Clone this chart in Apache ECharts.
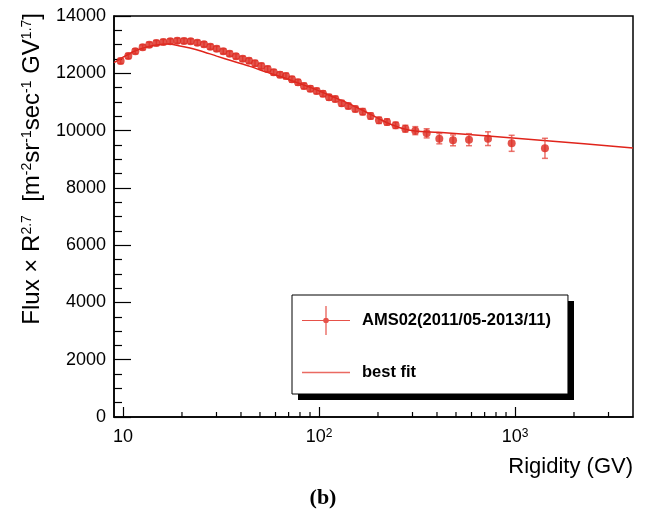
<!DOCTYPE html>
<html><head><meta charset="utf-8">
<script src="https://cdn.jsdelivr.net/npm/echarts@6/dist/echarts.min.js"></script>
<style>html,body{margin:0;padding:0;background:#fff}#c{width:646px;height:521px}</style>
</head><body><div id="c"></div>
<script>
// ---- data ----
const rigidity = [9.73,10.65,11.56,12.6,13.62,14.8,16.06,17.44,18.93,20.48,
  22.14,23.95,25.9,27.91,30.06,32.5,35.0,37.72,40.8,43.95,
  47.16,50.8,54.73,58.72,63.24,67.86,72.81,78.15,83.85,90.3,
  97.3,104.8,112.5,121.1,130.5,141.1,153.2,167.1,183.4,202.3,
  222.3,246.1,275.8,310.0,354.3,411.1,482.9,582.6,728.2,961.6,1422];
const flux = [12429,12604,12766,12906,12999,13057,13092,13116,13139,13127,
  13116,13069,13011,12929,12860,12766,12685,12592,12510,12441,
  12348,12254,12150,12033,11952,11905,11789,11684,11556,11463,
  11382,11288,11161,11102,10951,10858,10753,10660,10509,10358,
  10299,10183,10066,9997,9904,9717,9659,9682,9717,9555,9380];
const fluxErr = [90,90,90,90,90,90,90,90,90,90,
  90,90,90,90,90,90,90,90,90,90,
  100,100,100,100,100,100,100,100,100,100,
  100,100,100,100,100,100,100,110,110,110,
  110,110,120,140,160,180,190,210,240,280,350];
const fitRigidity = [9.0,10.24,11.51,12.95,14.91,17.11,19.24,21.97,24.71,30.06,36.53,44.46,54.1,65.76,79.07,96.5,117.9,141.1,167.7,203.8,225.7,264.2,308.8,406.2,703,1451,4000];
const fitFlux = [12370,12600,12780,12900,12990,13020,12965,12880,12790,12600,12420,12240,12040,11850,11650,11430,11180,10950,10700,10400,10254,10080,9985,9939,9821,9647,9392];
const xMinorTicks = [20,30,40,50,60,70,80,90,200,300,400,500,600,700,800,900,2000,3000];
const seriesNames = ['AMS02(2011/05-2013/11)', 'best fit'];
const xTitle = 'Rigidity (GV)';
const yTitle = 'Flux \u00d7 R{s|2.7}  [m{s|-2}sr{s|-1}sec{s|-1} GV{s|1.7}]';
const caption = '(b)';

const FONT = '"Liberation Sans", Arial, Helvetica, sans-serif';
const chart = echarts.init(document.getElementById('c'), null, {renderer: 'canvas'});

const crossIcon = 'path://M0,13.9H48V15.1H0Z M23.4,0H24.6V29H23.4Z M21.2,14.5A2.8,2.8 0 1 1 26.8,14.5A2.8,2.8 0 1 1 21.2,14.5Z';
const lineIcon = 'path://M0,14H48V15.4H0Z';

const option = {
  animation: false,
  backgroundColor: '#fff',
  title: {
    text: caption, left: 'center', top: 482,
    textStyle: {fontFamily: '"Liberation Serif", "Times New Roman", serif', fontWeight: 'bold', fontSize: 22, color: '#000'}
  },
  graphic: [{
    type: 'rect', left: 298, top: 301, z: 9, silent: true,
    shape: {width: 276, height: 99},
    style: {fill: '#000'}
  }],
  grid: {left: 114, right: 13, top: 16, bottom: 104, show: true, borderColor: '#000', borderWidth: 1.5, backgroundColor: 'transparent'},
  legend: {
    orient: 'vertical', left: 292, top: 295, z: 10,
    padding: [11, 17, 13, 10], itemGap: 29, itemWidth: 48, itemHeight: 29, itemTextGap: 5,
    backgroundColor: '#fff', borderColor: '#000', borderWidth: 1, borderRadius: 0,
    selectedMode: false,
    textStyle: {fontFamily: FONT, fontWeight: 'bold', fontSize: 16.5, color: '#000', padding: [0, 0, 0, 7]},
    data: [
      {name: seriesNames[0], icon: crossIcon, itemStyle: {color: '#e0261c'}},
      {name: seriesNames[1], icon: lineIcon, itemStyle: {color: '#ea6a62'}}
    ]
  },
  xAxis: {
    type: 'log', logBase: 10, min: 9, max: 4000,
    axisLine: {show: true, onZero: false, lineStyle: {color: '#000', width: 1.5}},
    axisTick: {show: true, inside: true, length: 10, lineStyle: {color: '#000', width: 1.2}},
    minorTick: {show: false},
    splitLine: {show: false},
    axisLabel: {
      showMinLabel: false, showMaxLabel: false, margin: 11,
      fontFamily: FONT, fontSize: 18, color: '#000',
      formatter: function (v) {
        const e = Math.round(Math.log10(v));
        if (Math.abs(v - Math.pow(10, e)) > 1e-6 * v) return '';
        return e === 1 ? '10' : '10{s|' + e + '}';
      },
      rich: {s: {fontFamily: FONT, fontSize: 12, color: '#000', verticalAlign: 'top'}}
    },
    name: xTitle, nameLocation: 'end', nameGap: 0, nameMoveOverlap: false,
    nameTextStyle: {fontFamily: FONT, fontSize: 22, color: '#000', align: 'right', verticalAlign: 'top', padding: [39, 0, 0, 0]}
  },
  yAxis: {
    type: 'value', min: 0, max: 14000, interval: 2000,
    axisLine: {show: true, onZero: false, lineStyle: {color: '#000', width: 1.5}},
    axisTick: {show: true, inside: true, length: 17, lineStyle: {color: '#000', width: 1.2}},
    minorTick: {show: true, splitNumber: 4, length: 8, lineStyle: {color: '#000', width: 1.2}},
    splitLine: {show: false},
    axisLabel: {margin: 8, fontFamily: FONT, fontSize: 18, color: '#000', formatter: function (v) { return String(v); }},
    name: yTitle, nameLocation: 'end', nameRotate: 90, nameGap: 3, nameMoveOverlap: false,
    nameTextStyle: {
      fontFamily: FONT, fontSize: 24, color: '#000', align: 'right', verticalAlign: 'bottom', padding: [0, 0, 70, 0],
      rich: {s: {fontFamily: FONT, fontSize: 14, color: '#000', verticalAlign: 'top'}}
    }
  },
  series: [
    {
      name: seriesNames[1], type: 'line', smooth: 0.3, showSymbol: false, symbol: 'none', silent: true,
      data: fitRigidity.map((r, i) => [r, fitFlux[i]]),
      lineStyle: {color: '#e0241b', width: 1.5},
      itemStyle: {color: '#e0241b'}, z: 2
    },
    {
      name: 'errbars', type: 'custom', silent: true, z: 3,
      data: rigidity.map((r, i) => [r, flux[i], fluxErr[i]]),
      encode: {x: 0, y: 1},
      renderItem: function (params, api) {
        const x = api.value(0), y = api.value(1), e = api.value(2);
        const t = api.coord([x, y + e]);
        const b = api.coord([x, y - e]);
        const st = {stroke: 'rgba(228,70,60,0.75)', lineWidth: 1.5};
        return {type: 'group', children: [
          {type: 'line', shape: {x1: t[0], y1: t[1], x2: b[0], y2: b[1]}, style: st},
          {type: 'line', shape: {x1: t[0] - 3, y1: t[1], x2: t[0] + 3, y2: t[1]}, style: st},
          {type: 'line', shape: {x1: b[0] - 3, y1: b[1], x2: b[0] + 3, y2: b[1]}, style: st}
        ]};
      }
    },
    {
      name: seriesNames[0], type: 'scatter', symbol: 'circle', symbolSize: 8, z: 4, silent: true,
      data: rigidity.map((r, i) => [r, flux[i]]),
      itemStyle: {color: '#dc281e'}
    },
    {
      name: 'xminor', type: 'custom', silent: true, z: 5, clip: false,
      data: xMinorTicks.map(v => [v, 0]),
      encode: {x: 0, y: 1},
      renderItem: function (params, api) {
        const p = api.coord([api.value(0), 0]);
        return {type: 'line', shape: {x1: p[0], y1: p[1], x2: p[0], y2: p[1] - 5}, style: {stroke: '#000', lineWidth: 1.2}};
      }
    }
  ]
};
chart.setOption(option);
</script>
</body></html>
